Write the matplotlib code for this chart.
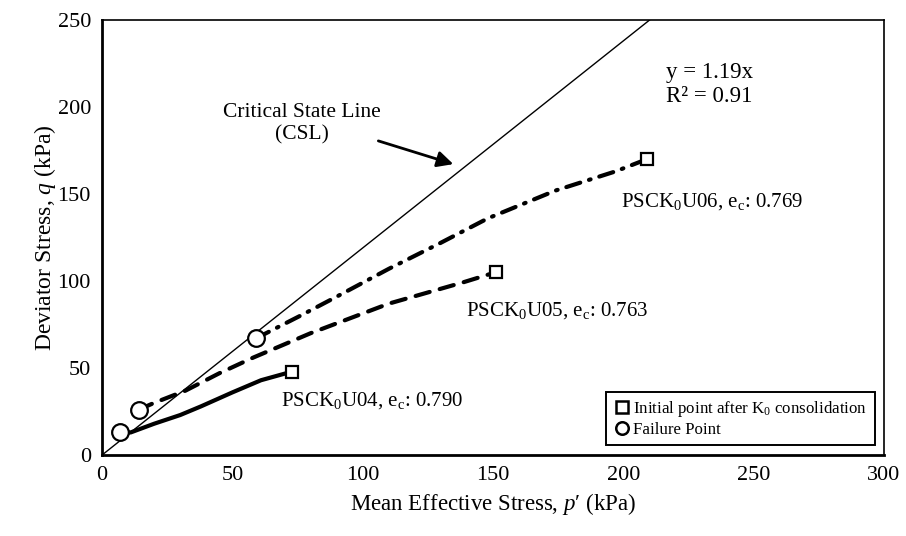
import matplotlib
matplotlib.use("Agg")
import matplotlib.pyplot as plt

plt.rcParams['font.family'] = ['Liberation Serif', 'DejaVu Serif']
plt.rcParams['mathtext.fontset'] = 'custom'
plt.rcParams['mathtext.rm'] = 'Liberation Serif'
plt.rcParams['mathtext.it'] = 'Liberation Serif:italic'
plt.rcParams['mathtext.bf'] = 'Liberation Serif:bold'

# Stress paths
u04_p = [7, 11, 20, 30, 38, 50, 61, 73]
u04_q = [13, 13, 18, 23, 28, 36, 43, 48]
u05_p = [14, 20, 32, 45, 58, 80, 110, 138, 151]
u05_q = [26, 30, 37, 47, 56, 70, 87, 99, 105]
u06_p = [59, 76, 90, 110, 130, 148, 174, 197, 209]
u06_q = [67, 80, 91, 107, 122, 136, 152, 163, 170]

csl_slope = 1.19
x_ticks = [0, 50, 100, 150, 200, 250, 300]
y_ticks = [0, 50, 100, 150, 200, 250]

fig = plt.figure(figsize=(9.06, 5.36), dpi=100)
ax = fig.add_axes([0.1126, 0.151, 0.8631, 0.8117])

# CSL
xc = [0, 250 / csl_slope]
ax.plot(xc, [csl_slope * v for v in xc], color='black', lw=1.0)

ax.plot(u04_p, u04_q, color='black', lw=3, ls='-', solid_capstyle='round')
ax.plot(u05_p, u05_q, color='black', lw=3, ls=(0, (3.5, 2.5)), dash_capstyle='round')
ax.plot(u06_p, u06_q, color='black', lw=3, ls=(0, (3.5, 2.2, 0.4, 2.2)), dash_capstyle='round')

# initial points (squares) and failure points (circles)
for p, q in [(u04_p, u04_q), (u05_p, u05_q), (u06_p, u06_q)]:
    ax.plot(p[-1], q[-1], marker='s', ms=8, mfc='white', mec='black', mew=1.6, ls='none', zorder=5)
    ax.plot(p[0], q[0], marker='o', ms=12, mfc='white', mec='black', mew=1.6, ls='none', zorder=5)

ax.set_xlim(0, 300)
ax.set_ylim(0, 250)
ax.set_xticks(x_ticks)
ax.set_yticks(y_ticks)
ax.tick_params(length=0, labelsize=16, pad=8)
for s in ax.spines.values():
    s.set_linewidth(1.2)
ax.spines['left'].set_linewidth(2)
ax.spines['bottom'].set_linewidth(2)

ax.set_xlabel("Mean Effective Stress, $p$′ (kPa)", fontsize=16.5, labelpad=4)
ax.set_ylabel("Deviator Stress, $q$ (kPa)", fontsize=17, labelpad=0)

ax.text(76.7, 190.5, "Critical State Line\n(CSL)", fontsize=15.5, ha='center', va='center', linespacing=1.25)
ax.annotate("", xy=(135.8, 166.7), xytext=(105, 181),
            arrowprops=dict(arrowstyle='-|>', color='black', lw=2, mutation_scale=24))
ax.text(216.5, 220, "y = 1.19x", fontsize=16.5, ha='left', va='center')
ax.text(216.5, 206, "R² = 0.91", fontsize=16.5, ha='left', va='center')

ax.text(199.2, 145.4, r"PSCK$_0$U06, e$_\mathrm{c}$: 0.769", fontsize=15, ha='left', va='center')
ax.text(139.6, 82.8, r"PSCK$_0$U05, e$_\mathrm{c}$: 0.763", fontsize=15, ha='left', va='center')
ax.text(68.5, 31.6, r"PSCK$_0$U04, e$_\mathrm{c}$: 0.790", fontsize=15, ha='left', va='center')

h1, = ax.plot([], [], marker='s', ms=8, mfc='white', mec='black', mew=1.8, ls='none')
h2, = ax.plot([], [], marker='o', ms=9, mfc='white', mec='black', mew=1.8, ls='none')
leg = ax.legend([h1, h2], ["Initial point after K$_0$ consolidation", "Failure Point"],
                loc='lower right', bbox_to_anchor=(0.988, 0.022), fontsize=12.2,
                fancybox=False, edgecolor='black', framealpha=1, handletextpad=0.15,
                handlelength=1.0, borderpad=0.45, labelspacing=0.15, borderaxespad=0)
leg.get_frame().set_linewidth(1.4)

fig.savefig("out.png", dpi=100)
